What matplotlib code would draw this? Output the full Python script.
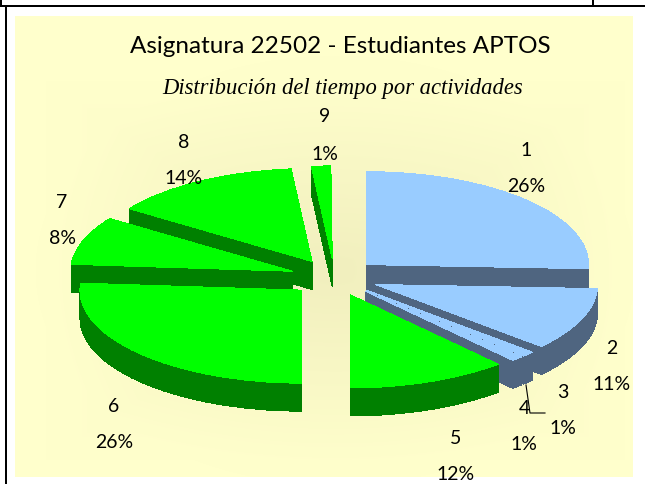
import numpy as np
import matplotlib.pyplot as plt
from matplotlib.patches import Wedge, Rectangle
from matplotlib.transforms import Affine2D

# Datos
actividades = ['1', '2', '3', '4', '5', '6', '7', '8', '9']
porcentajes = [25.7, 10.9, 0.9, 0.9, 11.6, 26.2, 8.4, 13.9, 1.4]
azules = ['1', '2', '3', '4']

# Posicion de las etiquetas (x, y numero, y porcentaje)
pos_etiquetas = {
    '1': (526, 150, 186), '2': (612, 349, 385), '3': (563, 393, 428),
    '4': (524, 408, 445), '5': (456, 438, 474), '6': (114, 407, 443),
    '7': (62, 203, 238), '8': (184, 143, 178), '9': (325, 117, 154),
}
orden_dibujo = ['9', '8', '7', '6', '1', '2', '3', '4', '5']

cx, cy = 334.5, 277.5
rx, ry = 222, 93
grosor = 28
explosion = 0.2

fig = plt.figure(figsize=(6.45, 4.84), dpi=100)
ax = fig.add_axes([0, 0, 1, 1])
ax.axis('off')

# Fondo con degradado
xx, yy = np.meshgrid(np.arange(15, 633), np.arange(16, 477))
d = np.clip(np.maximum(np.abs(xx - 335) / 290, np.abs(yy - 270) / 190), 0, 1)
d = 0.5 * d + 0.5 * np.clip(np.hypot((xx - 335) / 300, (yy - 270) / 215), 0, 1)
c0 = np.array([0.945, 0.937, 0.745])
c1 = np.array([1.0, 1.0, 0.8])
img = c0 + (c1 - c0) * d[..., None]
ax.imshow(img, extent=(15, 633, 477, 16), zorder=0.5, aspect='auto')
ax.set_xlim(0, 645)
ax.set_ylim(484, 0)

# Marco
ax.add_patch(Rectangle((0, 5), 645, 2, fc='black', ec='none', zorder=1))
ax.add_patch(Rectangle((0, 0), 1.5, 5, fc='black', ec='none', zorder=1))
ax.add_patch(Rectangle((592, 0), 2, 5, fc='black', ec='none', zorder=1))
ax.add_patch(Rectangle((5, 7), 2, 477, fc='black', ec='none', zorder=1))

# Sectores
fin = np.cumsum(porcentajes) * 3.6
inicio = fin - np.array(porcentajes) * 3.6
z = 2
for nombre in orden_dibujo:
    i = actividades.index(nombre)
    medio = np.radians((inicio[i] + fin[i]) / 2)
    centro = (explosion * np.sin(medio), -explosion * np.cos(medio))
    claro, oscuro = ('#99CCFF', '#4F6580') if nombre in azules else ('#00FF00', '#008000')
    for dy in range(grosor, -1, -1):
        t = Affine2D().scale(rx, ry).translate(cx, cy + dy) + ax.transData
        ax.add_patch(Wedge(centro, 1, inicio[i] - 90, fin[i] - 90, transform=t,
                           fc=oscuro if dy > 0 else claro, ec='none', zorder=z,
                           antialiased=False))
    z += 1

# Linea guia de la etiqueta 4
ax.plot([526, 530, 545], [385, 413, 413], color='black', lw=0.8, zorder=20)

# Etiquetas
for i, nombre in enumerate(actividades):
    x, y1, y2 = pos_etiquetas[nombre]
    ax.text(x, y1, nombre, ha='center', va='center', fontsize=14, family='Lato', zorder=21)
    ax.text(x, y2, f'{porcentajes[i]:.0f}%', ha='center', va='center', fontsize=14,
            family='Lato', zorder=21)

ax.text(340, 53, 'Asignatura 22502 - Estudiantes APTOS', ha='center', va='baseline',
        fontsize=17.5, family='Lato', zorder=21)
ax.text(342.5, 94, 'Distribución del tiempo por actividades', ha='center', va='baseline',
        fontsize=16.3, family='Liberation Serif', style='italic', zorder=21)

fig.savefig('out.png', dpi=100, facecolor='white')
